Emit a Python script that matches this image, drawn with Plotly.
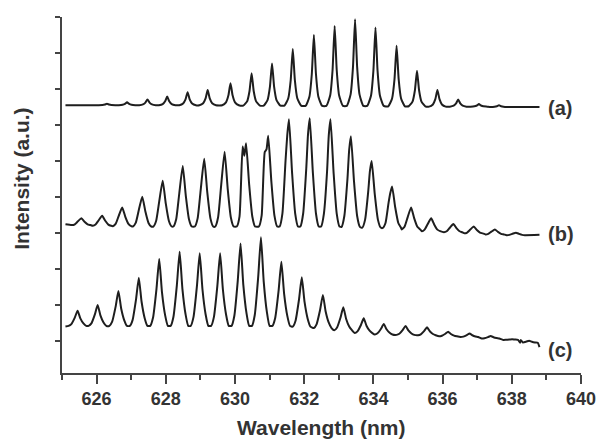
import plotly.graph_objects as go

# ---------------- data ----------------
# spectrum (a)
a_peak_nm = [626.30, 626.88, 627.47, 628.04, 628.63, 629.21, 629.87, 630.48, 631.07, 631.67,
             632.28, 632.88, 633.47, 634.06, 634.67, 635.26, 635.85, 636.45, 637.05, 637.63]
a_peak_val = [6.59, 6.63, 6.71, 6.79, 6.91, 6.97, 7.16, 7.44, 7.71, 8.11,
              8.50, 8.75, 8.94, 8.71, 8.20, 7.51, 6.97, 6.71, 6.58, 6.55]
a_foot_val = [6.55, 6.55, 6.55, 6.55, 6.55, 6.55, 6.55, 6.54, 6.54, 6.54,
              6.53, 6.53, 6.53, 6.53, 6.52, 6.52, 6.51, 6.51, 6.51, 6.50]
a_ends_nm = [625.10, 638.80]
a_ends_val = [6.55, 6.50]

# spectrum (b)
b_peak_nm = [625.56, 626.16, 626.74, 627.32, 627.91, 628.49, 629.11, 629.70, 630.32, 630.96, 631.56,
             632.16, 632.76, 633.35, 633.95, 634.54, 635.09, 635.67, 636.31, 636.90, 637.51, 638.12]
b_peak_val = [3.41, 3.48, 3.71, 4.01, 4.45, 4.86, 5.06, 5.26, 5.49, 5.70, 6.16,
              6.19, 6.16, 5.69, 5.00, 4.29, 3.71, 3.41, 3.25, 3.18, 3.10, 3.01]
b_shoulder_val = [None, None, None, None, None, None, None, None, 5.40, 5.25, 5.00,
                  4.80, 4.70, 4.50, 4.15, 3.85, None, None, None, None, None, None]
b_foot_val = [3.22, 3.20, 3.19, 3.18, 3.18, 3.18, 3.18, 3.18, 3.18, 3.18, 3.18,
              3.18, 3.18, 3.17, 3.15, 3.14, 3.10, 3.05, 3.02, 2.99, 2.96, 2.94]
b_ends_nm = [625.10, 638.80]
b_ends_val = [3.24, 2.95]

# spectrum (c)
c_peak_nm = [625.45, 626.03, 626.63, 627.22, 627.81, 628.40, 628.98, 629.57, 630.16, 630.75, 631.34, 631.93,
             632.54, 633.13, 633.72, 634.30, 634.93, 635.55, 636.16, 636.78, 637.39, 638.01, 638.50]
c_peak_val = [0.84, 1.00, 1.39, 1.76, 2.28, 2.48, 2.44, 2.44, 2.71, 2.88, 2.20, 1.77,
              1.28, 0.94, 0.63, 0.47, 0.42, 0.38, 0.26, 0.21, 0.14, 0.05, 0.01]
c_foot_val = [0.42, 0.42, 0.42, 0.42, 0.42, 0.42, 0.42, 0.42, 0.42, 0.42, 0.42, 0.40,
              0.36, 0.30, 0.22, 0.18, 0.17, 0.16, 0.13, 0.11, 0.07, 0.03, -0.05]
c_ends_nm = [625.10, 638.80]
c_ends_val = [0.40, -0.17]

curve_labels = ["(a)", "(b)", "(c)"]
label_val = [6.46, 2.96, -0.25]
label_nm = 639.0

x_ticks = [626, 628, 630, 632, 634, 636, 638, 640]
y_ticks = [0, 1, 2, 3, 4, 5, 6, 7, 8, 9]

# ---------------- drawing helpers (peak outline geometry = style) ----------------
prof_a = [(-0.24, 0.0), (-0.13, 0.13), (-0.06, 0.45), (0.0, 1.0), (0.06, 0.45), (0.13, 0.13), (0.24, 0.0)]
prof_b = [(-0.27, 0.0), (-0.19, 0.12), (-0.10, 0.55), (0.0, 1.0), (0.09, 0.50), (0.18, 0.12), (0.26, 0.0)]
prof_c = [(-0.26, 0.0), (-0.18, 0.12), (-0.08, 0.55), (0.0, 1.0), (0.08, 0.50), (0.17, 0.16), (0.25, 0.0)]


def outline(nm, top, foot, ends_nm, ends_val, prof, shoulder=None):
    pts = [(ends_nm[0], ends_val[0])]
    for i, (p, t, f) in enumerate(zip(nm, top, foot)):
        for off, frac in prof:
            if shoulder is not None and shoulder[i] is not None and -0.15 < off < -0.05:
                pts.append((p - 0.10, shoulder[i]))
                pts.append((p - 0.05, f + 0.85 * (t - f)))
                continue
            pts.append((p + off, f + frac * (t - f)))
    pts.append((ends_nm[1], ends_val[1]))
    pts.sort(key=lambda q: q[0])
    return [q[0] for q in pts], [q[1] for q in pts]


fig = go.Figure()
line_style = dict(color="#1e1e1e", width=2.0, shape="spline", smoothing=0.5)
for nm, top, foot, en, ev, prof, sh in [
    (a_peak_nm, a_peak_val, a_foot_val, a_ends_nm, a_ends_val, prof_a, None),
    (b_peak_nm, b_peak_val, b_foot_val, b_ends_nm, b_ends_val, prof_b, b_shoulder_val),
    (c_peak_nm, c_peak_val, c_foot_val, c_ends_nm, c_ends_val, prof_c, None),
]:
    xs, ys = outline(nm, top, foot, en, ev, prof, sh)
    fig.add_trace(go.Scatter(x=xs, y=ys, mode="lines", line=line_style,
                             hoverinfo="skip", showlegend=False))

font_family = "Liberation Sans, Arial, sans-serif"
text_color = "#333333"

for lab, v in zip(curve_labels, label_val):
    fig.add_annotation(x=label_nm, y=v, xref="x", yref="y", text=lab, showarrow=False,
                       xanchor="left", yanchor="middle",
                       font=dict(family=font_family, size=20, color=text_color, weight="bold"))

fig.add_annotation(x=0.499, y=-0.152, xref="paper", yref="paper", text="Wavelength (nm)",
                   showarrow=False, xanchor="center", yanchor="middle",
                   font=dict(family=font_family, size=21, color=text_color, weight="bold"))
fig.add_annotation(x=-0.0775, y=0.545, xref="paper", yref="paper", text="Intensity (a.u.)",
                   showarrow=False, xanchor="center", yanchor="middle", textangle=-90,
                   font=dict(family=font_family, size=21, color=text_color, weight="bold"))

axis_color = "#444444"
fig.update_layout(
    width=608, height=443,
    margin=dict(l=62, r=17, t=17, b=70),
    paper_bgcolor="white", plot_bgcolor="white",
    xaxis=dict(range=[625, 640], tickvals=x_ticks, ticks="outside", ticklen=9, tickwidth=1.5,
               tickcolor=axis_color, showline=True, linecolor=axis_color, linewidth=1.5,
               showgrid=False, zeroline=False,
               minor=dict(dtick=1, tick0=625, ticks="outside", ticklen=5, tickwidth=1.5,
                          tickcolor=axis_color, showgrid=False),
               tickfont=dict(family=font_family, size=18, color=text_color, weight="bold")),
    yaxis=dict(range=[-0.889, 9.0], tickvals=y_ticks, ticks="outside", ticklen=5, tickwidth=1.5,
               tickcolor=axis_color, showline=True, linecolor=axis_color, linewidth=1.5,
               showgrid=False, zeroline=False, showticklabels=False),
)

fig.write_html("out.html", config={"displayModeBar": False},
               post_script="document.body.style.margin='0';document.body.style.overflow='hidden';")
